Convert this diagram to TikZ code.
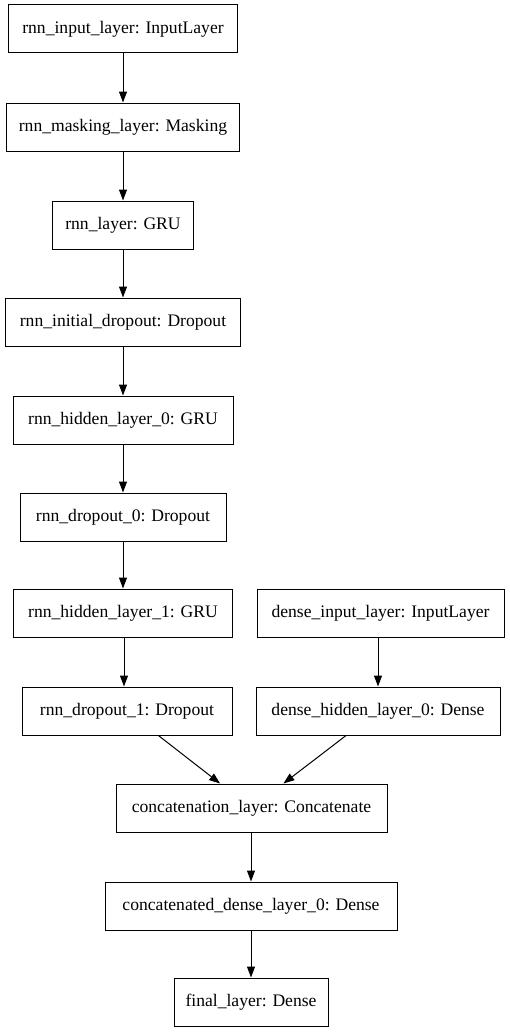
\documentclass[tikz,border=0pt]{standalone}
\usepackage{fontspec}
\setmainfont{Liberation Serif}
\usetikzlibrary{arrows.meta}
\begin{document}
\begin{tikzpicture}[x=1pt,y=-1pt,
  layer/.style={draw, line width=1pt, inner sep=0pt, minimum height=48pt,
    font=\fontsize{17.6}{20}\selectfont},
  flow/.style={line width=1pt, -{Triangle[length=11pt,width=8pt]}}]
\useasboundingbox[fill=white] (0,0) rectangle (509,1033);
\node[layer, minimum width=229pt] (n1) at (123,29) {rnn\_input\_layer: InputLayer};
\node[layer, minimum width=233pt] (n2) at (123,127) {rnn\_masking\_layer: Masking};
\node[layer, minimum width=141pt] (n3) at (123,225) {rnn\_layer: GRU};
\node[layer, minimum width=235pt] (n4) at (123,322) {rnn\_initial\_dropout: Dropout};
\node[layer, minimum width=220pt] (n5) at (123,420) {rnn\_hidden\_layer\_0: GRU};
\node[layer, minimum width=206pt] (n6) at (123,517) {rnn\_dropout\_0: Dropout};
\node[layer, minimum width=219pt] (n7) at (123,613) {rnn\_hidden\_layer\_1: GRU};
\node[layer, minimum width=210pt] (n8) at (127,711) {rnn\_dropout\_1: Dropout};
\node[layer, minimum width=247pt] (d1) at (380.5,613) {dense\_input\_layer: InputLayer};
\node[layer, minimum width=244pt] (d2) at (378,711) {dense\_hidden\_layer\_0: Dense};
\node[layer, minimum width=271pt] (c) at (251.5,808) {concatenation\_layer: Concatenate};
\node[layer, minimum width=292pt] (cd) at (251,906) {concatenated\_dense\_layer\_0: Dense};
\node[layer, minimum width=154pt] (f) at (251,1002) {final\_layer: Dense};
\draw[flow] (n1) -- (n2);
\draw[flow] (n2) -- (n3);
\draw[flow] (n3) -- (n4);
\draw[flow] (n4) -- (n5);
\draw[flow] (n5) -- (n6);
\draw[flow] (n6) -- (n7);
\draw[flow] ([xshift=1pt]n7.south) -- ([xshift=1pt]n7.south |- n8.north);
\draw[flow] (d1.south -| d2) -- (d2);
\draw[flow] (n8) -- (c);
\draw[flow] (d2) -- (c);
\draw[flow] (c.south -| cd) -- (cd);
\draw[flow] (cd) -- (f);
\end{tikzpicture}
\end{document}
